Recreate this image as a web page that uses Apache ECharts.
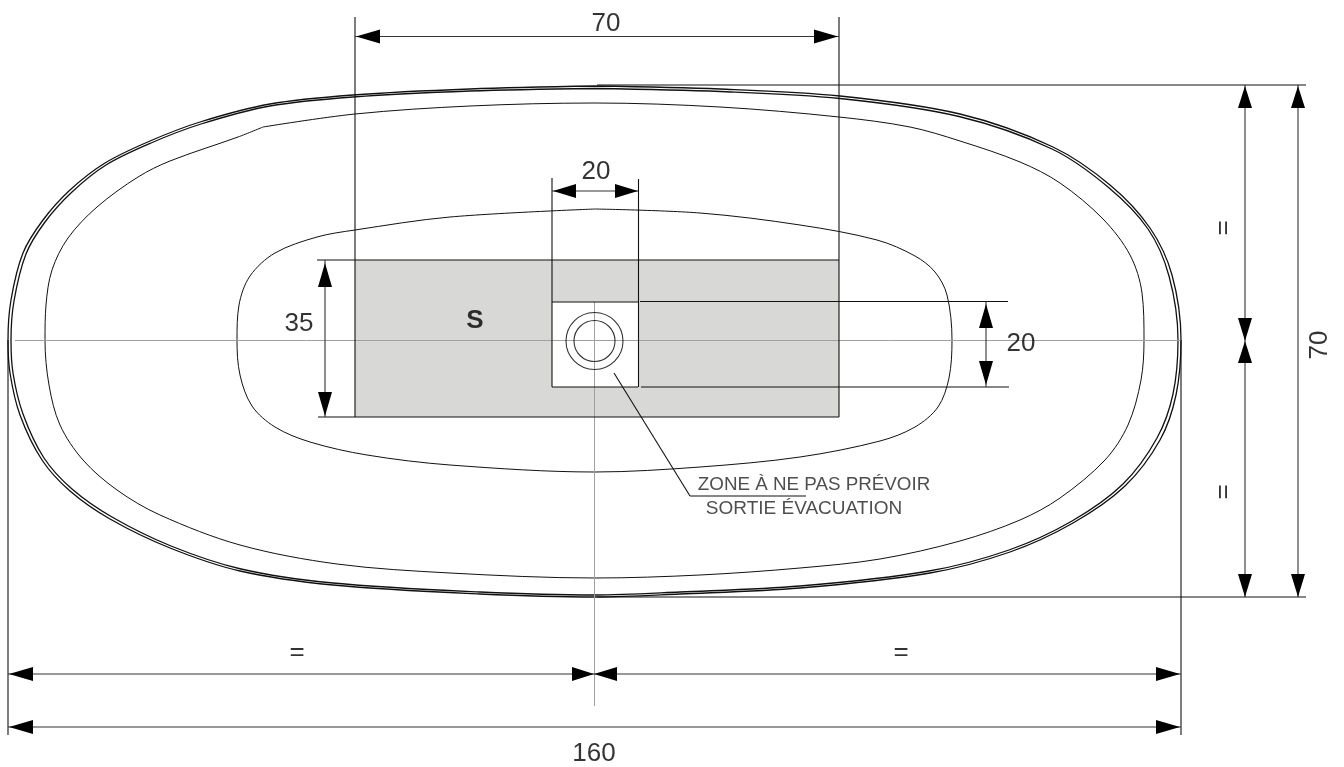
<!DOCTYPE html>
<html>
<head>
<meta charset="utf-8">
<style>html,body{margin:0;padding:0;background:#fff}#c{width:1344px;height:767px}</style>
<script src="https://cdn.jsdelivr.net/npm/echarts@6/dist/echarts.min.js"></script>
</head>
<body>
<div id="c"></div>
<script>
// Drawing contours, in drawing units
const outerContour = [[595,86],[720,89],[840,96],[960,114],[1053,147],[1110,185],[1150,228],[1172,275],[1181,340],[1176,395],[1160,440],[1125,486],[1073,523],[1010,552],[930,573],[800,588],[680,594],[595,597],[480,594],[333,585],[240,571],[170,548],[110,519],[70,491],[42,460],[20,415],[10,373],[8,340],[11,300],[23,253],[43,220],[70,190],[105,163],[150,141],[200,122],[270,104],[353,95],[470,89],[595,86]];
const outerContourInner = [[595,88.5],[720,91.5],[840,98.5],[959,116.5],[1052,149],[1108,187],[1148,229],[1169,276],[1178,340],[1173,394],[1157,438],[1123,484],[1072,521],[1009,550],[929,571],[800,586],[680,592],[595,595],[480,592],[333,583],[241,569],[171,546],[112,517],[72,489],[44,458],[23,414],[13,373],[11,340],[14,301],[26,254],[45,222],[72,192],[106,165],[151,143],[201,124],[270,106],[353,97],[470,91],[595,88.5]];
const middleContour = [[263,127],[355,114],[470,106],[595,103],[720,107],[839,117],[910,127],[960,141],[1020,162],[1060,183],[1103,219],[1130,255],[1142,293],[1144,340],[1141,380],[1128,425],[1105,460],[1060,498],[1020,520],[960,541],[880,559],[800,568],[700,575],[595,578],[450,573],[337,564],[240,545],[160,515],[117,490],[83,460],[60,425],[49,385],[45,340],[46,305],[52,270],[68,238],[97,207],[138,177],[170,161],[238,137],[263,127]];
const basinContour = [[595,209],[700,213],[800,225],[877,240],[915,256],[935,272],[947,295],[952,340],[949,378],[938,407],[915,427],[880,441],[800,457],[700,467],[595,472],[450,465],[367,455],[310,442],[275,427],[252,406],[240,375],[237,340],[239,305],[250,276],[275,253],[317,237],[355,230],[450,217],[595,209]];

// Filled zones: x0, y0, x1, y1
const greyZone = [[355,260,839,417]];
const whiteZone = [[552,302,638,387]];

// Straight lines: x0, y0, x1, y1
const centerLines = [[15,340.5,1181,340.5],[594.5,302,594.5,706]];
const drawingLines = [
  [355,17,355,417],[839,17,839,417],[552,178,552,387],[638.5,179,638.5,387],
  [317,260,839,260],[318,417,839,417],[552,302,638,302],[552,387,638,387],
  [640,301.5,1008,301.5],[641,387,1009,387],
  [597,85,1306,85],[597,597,1306,597],
  [8,340,8,735],[1181,340,1181,735],
  [614,373,690,496],[690,496,806,496]
];
const dimensionLines = [
  [355,36.5,839,36.5],[552,191,638,191],[325,260,325,417],[986,302,986,387],
  [1245,85,1245,597],[1298,85,1298,597],[8,674,1181,674],[8,727,1181,727]
];

// Arrow heads: tipX, tipY, baseX, baseY
const arrowHeads = [
  [356,36.5,380,36.5],[838,36.5,814,36.5],
  [553,191,576,191],[638,191,615,191],
  [325,263,325,287],[325,416,325,392],
  [986,304,986,328],[986,385,986,361],
  [1245,86,1245,108],[1245,341,1245,318],[1245,341,1245,363],[1245,597,1245,574],
  [1298,86,1298,108],[1298,597,1298,574],
  [9,674,33,674],[594,674,572,674],[594,674,617,674],[1180,674,1156,674],
  [9,727,33,727],[1180,727,1156,727]
];

// Waste outlet rings: x, y, diameter
const outletRings = [[594.5,341,57],[594.5,341,41]];

// Texts: x, y, label, size, rotation
const dimensionTexts = [
  [606,24,'70',26,0],[596,172,'20',26,0],[299,324,'35',26,0],[1021,344,'20',26,0],
  [1320,345,'70',26,90],[594,754,'160',26,0],[297,653,'=',26,0],[901,653,'=',26,0],
  [1224,228,'=',26,90],[1224,492,'=',26,90]
];
const boldTexts = [[475,321,'S',26,0]];
const noteTexts = [[814,485,'ZONE À NE PAS PRÉVOIR',18.8,0],[804,509,'SORTIE ÉVACUATION',19,0]];

const FONT = '"Liberation Sans", Arial, sans-serif';

function contour(name, data, width) {
  return {name, type:'line', data, smooth:0.33, showSymbol:false, symbol:'none', z:3, silent:true,
    lineStyle:{color:'#111', width}, animation:false};
}
function rects(name, data, fill, z) {
  return {name, type:'custom', data, z, silent:true, encode:{x:[0,2],y:[1,3]}, clip:false,
    renderItem(p, api){
      const a = api.coord([api.value(0), api.value(1)]);
      const b = api.coord([api.value(2), api.value(3)]);
      return {type:'rect', shape:{x:a[0],y:a[1],width:b[0]-a[0],height:b[1]-a[1]}, style:{fill}};
    }};
}
function segments(name, data, stroke, width, z) {
  return {name, type:'custom', data, z, silent:true, encode:{x:[0,2],y:[1,3]}, clip:false,
    renderItem(p, api){
      const a = api.coord([api.value(0), api.value(1)]);
      const b = api.coord([api.value(2), api.value(3)]);
      return {type:'line', shape:{x1:a[0],y1:a[1],x2:b[0],y2:b[1]}, style:{stroke, lineWidth:width, fill:null}};
    }};
}
function arrows(name, data) {
  const half = 7;
  return {name, type:'custom', data, z:6, silent:true, encode:{x:[0,2],y:[1,3]}, clip:false,
    renderItem(p, api){
      const t = api.coord([api.value(0), api.value(1)]);
      const b = api.coord([api.value(2), api.value(3)]);
      const dx = b[0]-t[0], dy = b[1]-t[1], l = Math.hypot(dx,dy) || 1;
      const nx = -dy/l*half, ny = dx/l*half;
      return {type:'polygon', shape:{points:[t,[b[0]+nx,b[1]+ny],[b[0]-nx,b[1]-ny]]}, style:{fill:'#000'}};
    }};
}
function texts(name, rows, color, weight) {
  return {name, type:'scatter', symbolSize:1, z:7, silent:true,
    itemStyle:{color:'rgba(0,0,0,0)'},
    data: rows.map(r => ({value:[r[0],r[1]], label:{show:true, position:'inside', formatter:r[2], fontSize:r[3], rotate:r[4], color, fontWeight:weight, fontFamily:FONT}}))};
}

const chart = echarts.init(document.getElementById('c'), null, {renderer:'canvas'});
chart.setOption({
  animation:false,
  backgroundColor:'#fff',
  grid:{left:0,right:0,top:0,bottom:0},
  xAxis:{type:'value',min:0,max:1344,show:false},
  yAxis:{type:'value',min:0,max:767,inverse:true,show:false},
  tooltip:{show:false},
  series:[
    rects('grey zone', greyZone, '#d8d8d6', 1),
    rects('white zone', whiteZone, '#ffffff', 2),
    contour('outer', outerContour, 1.3),
    contour('outer inner', outerContourInner, 1.3),
    contour('middle', middleContour, 1),
    contour('basin', basinContour, 1),
    segments('center lines', centerLines, '#a0a0a0', 1, 4),
    segments('drawing lines', drawingLines, '#111', 1.1, 5),
    segments('dimension lines', dimensionLines, '#333', 1.1, 5),
    arrows('arrows', arrowHeads),
    {name:'outlet', type:'scatter', z:5, silent:true,
      data: outletRings.map(r => ({value:[r[0],r[1]], symbolSize:r[2]})),
      itemStyle:{color:'rgba(0,0,0,0)', borderColor:'#000', borderWidth:1.1}},
    texts('dimensions', dimensionTexts, '#000', 'normal'),
    texts('bold', boldTexts, '#000', 'bold'),
    texts('notes', noteTexts, '#222', 'normal')
  ]
});
</script>
</body>
</html>
